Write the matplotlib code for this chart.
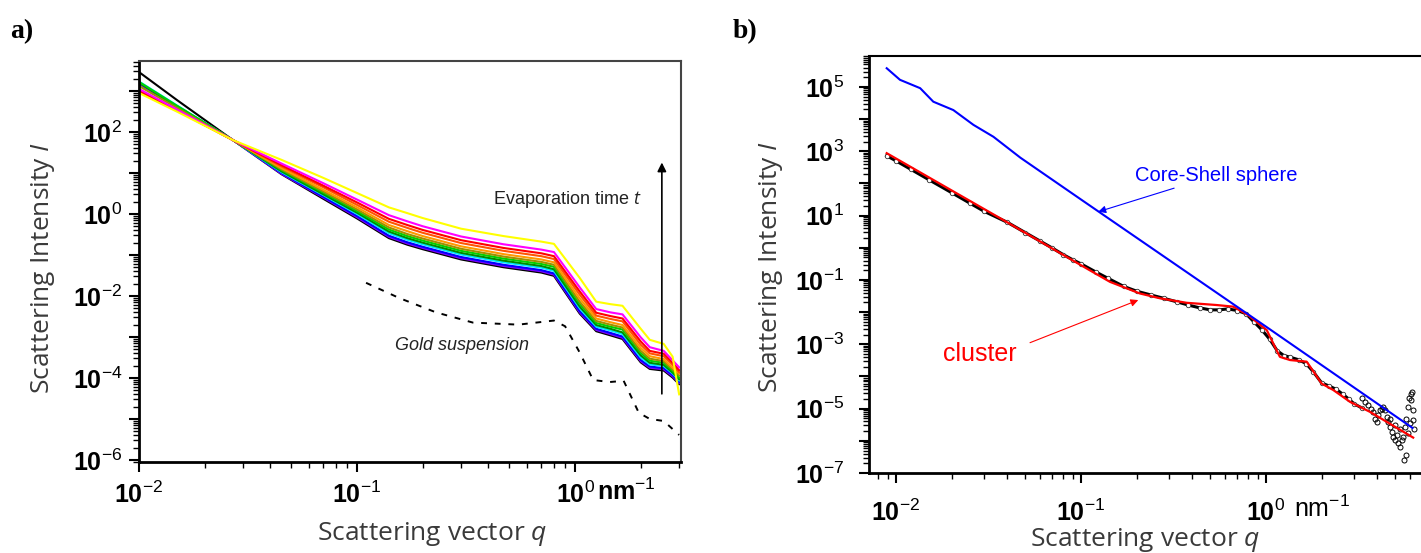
import numpy as np
import matplotlib
matplotlib.use('Agg')
import matplotlib.pyplot as plt
from matplotlib.ticker import LogLocator, NullFormatter, FixedLocator, FixedFormatter

plt.rcParams['mathtext.fontset'] = 'custom'
plt.rcParams['mathtext.rm'] = 'Liberation Sans'
plt.rcParams['mathtext.bf'] = 'Liberation Sans:bold'
plt.rcParams['mathtext.it'] = 'Open Sans:italic'
plt.rcParams['mathtext.sf'] = 'Liberation Sans'

# ---------------- panel a : evaporation series (log10 of intensity) ----------------
q_a = [0.01, 0.015, 0.027, 0.045, 0.07, 0.1, 0.14, 0.17, 0.2, 0.3, 0.47, 0.7, 0.8,
       1.05, 1.25, 1.45, 1.65, 2.0, 2.2, 2.55, 2.8, 3.0]

logI_black = [3.46, 2.77, 1.80, 0.97, 0.37, -0.11, -0.59, -0.75, -0.86, -1.11, -1.30, -1.43, -1.51,
              -2.43, -2.86, -2.96, -3.05, -3.62, -3.78, -3.82, -3.99, -4.15]
logI_violet = [3.17, 2.60, 1.80, 0.98, 0.40, -0.08, -0.56, -0.72, -0.83, -1.08, -1.27, -1.40, -1.48,
               -2.40, -2.83, -2.93, -3.02, -3.59, -3.75, -3.79, -3.96, -4.12]
logI_blue = [3.20, 2.62, 1.80, 1.00, 0.42, -0.05, -0.53, -0.69, -0.80, -1.05, -1.24, -1.37, -1.45,
             -2.37, -2.80, -2.90, -2.99, -3.56, -3.72, -3.76, -3.93, -4.09]
logI_cyan = [3.23, 2.64, 1.80, 1.02, 0.46, 0.00, -0.47, -0.63, -0.74, -0.99, -1.18, -1.31, -1.39,
             -2.30, -2.75, -2.84, -2.93, -3.50, -3.67, -3.71, -3.89, -4.06]
logI_dkgreen = [3.20, 2.62, 1.80, 1.04, 0.48, 0.03, -0.43, -0.59, -0.70, -0.95, -1.14, -1.27, -1.35,
                -2.26, -2.71, -2.80, -2.89, -3.45, -3.63, -3.68, -3.87, -4.03]
logI_green = [3.22, 2.63, 1.80, 1.07, 0.52, 0.07, -0.38, -0.54, -0.65, -0.90, -1.09, -1.22, -1.29,
              -2.19, -2.66, -2.75, -2.82, -3.39, -3.58, -3.63, -3.83, -3.99]
logI_olive = [3.12, 2.58, 1.80, 1.09, 0.55, 0.11, -0.33, -0.49, -0.60, -0.85, -1.04, -1.17, -1.24,
              -2.14, -2.61, -2.70, -2.77, -3.34, -3.53, -3.59, -3.79, -3.94]
logI_orange = [3.00, 2.52, 1.80, 1.12, 0.59, 0.16, -0.27, -0.42, -0.54, -0.79, -0.98, -1.11, -1.18,
               -2.06, -2.55, -2.64, -2.71, -3.27, -3.47, -3.54, -3.75, -3.89]
logI_orangered = [3.00, 2.52, 1.80, 1.16, 0.65, 0.22, -0.19, -0.34, -0.46, -0.71, -0.90, -1.03, -1.10,
                  -1.97, -2.48, -2.56, -2.62, -3.19, -3.40, -3.47, -3.68, -3.86]
logI_red = [3.00, 2.52, 1.80, 1.19, 0.69, 0.28, -0.12, -0.27, -0.39, -0.64, -0.83, -0.96, -1.03,
            -1.89, -2.41, -2.49, -2.55, -3.11, -3.34, -3.41, -3.63, -3.81]
logI_magenta = [3.05, 2.54, 1.80, 1.23, 0.75, 0.35, -0.03, -0.18, -0.30, -0.55, -0.74, -0.87, -0.93,
                -1.79, -2.32, -2.40, -2.45, -3.01, -3.25, -3.34, -3.57, -3.74]
logI_yellow = [2.95, 2.49, 1.80, 1.32, 0.88, 0.51, 0.16, 0.02, -0.10, -0.36, -0.54, -0.675, -0.73,
               -1.56, -2.14, -2.20, -2.24, -2.80, -3.07, -3.17, -3.48, -4.40]

# gold suspension (dashed)
q_gold = [0.11, 0.156, 0.23, 0.34, 0.55, 0.80, 0.90, 1.05, 1.21, 1.44, 1.67, 1.96, 2.2, 2.55, 3.0]
logI_gold = [-1.68, -2.05, -2.40, -2.65, -2.70, -2.60, -2.74, -3.38, -4.05, -4.10, -4.07,
             -4.85, -5.00, -5.05, -5.39]

ytick_exp_a = [-6, -5, -4, -3, -2, -1, 0, 1, 2, 3]
ytick_lab_a = [r'$\mathbf{10}^{\mathrm{-6}}$', '', r'$\mathbf{10}^{\mathrm{-4}}$', '',
               r'$\mathbf{10}^{\mathrm{-2}}$', '', r'$\mathbf{10}^{\mathrm{0}}$', '',
               r'$\mathbf{10}^{\mathrm{2}}$', '']
xtick_exp_a = [-2, -1, 0]
xtick_lab_a = [r'$\mathbf{10}^{\mathrm{-2}}$', r'$\mathbf{10}^{\mathrm{-1}}$', r'$\mathbf{10}^{\mathrm{0}}$']

# ---------------- panel b : fit of one pattern ----------------
q_cs = [0.0089, 0.0105, 0.0135, 0.0159, 0.0204, 0.0262, 0.0336, 0.047, 0.1, 1.0, 6.2]
logI_cs = [5.58, 5.22, 4.96, 4.54, 4.28, 3.82, 3.45, 2.80, 1.50, -2.45, -5.60]

q_cluster = [0.0089, 0.02, 0.0365, 0.107, 0.1435, 0.208, 0.267, 0.372, 0.542, 0.665, 0.80,
             1.01, 1.14, 1.19, 1.35, 1.66, 2.0, 2.31, 2.85, 3.65, 6.25]
logI_cluster = [2.94, 1.78, 0.92, -0.64, -1.06, -1.42, -1.57, -1.71, -1.78, -1.83, -2.09,
                -2.56, -3.18, -3.39, -3.49, -3.54, -4.22, -4.42, -4.79, -5.10, -5.90]

q_data = [0.0089, 0.010, 0.012, 0.015, 0.02, 0.025, 0.03, 0.04, 0.05, 0.06, 0.07, 0.08, 0.09,
          0.1, 0.12, 0.14, 0.17, 0.2, 0.24, 0.28, 0.33, 0.38, 0.44, 0.5, 0.56, 0.62, 0.7, 0.78,
          0.86, 0.95, 1.05, 1.15, 1.25, 1.35, 1.5, 1.65, 1.8, 2.0, 2.2, 2.4, 2.6, 2.8, 3.0, 3.3]
logI_data = [2.86, 2.70, 2.44, 2.12, 1.71, 1.39, 1.13, 0.79, 0.47, 0.21, -0.01, -0.21, -0.37,
             -0.50, -0.75, -0.95, -1.20, -1.35, -1.47, -1.57, -1.68, -1.78, -1.87, -1.93, -1.93,
             -1.90, -1.95, -2.05, -2.30, -2.55, -2.85, -3.20, -3.35, -3.40, -3.48, -3.60, -3.85,
             -4.20, -4.30, -4.40, -4.55, -4.70, -4.85, -4.98]

q_noise = [3.29, 3.43, 3.57, 3.72, 3.80, 3.88, 3.96, 4.05, 4.13, 4.22, 4.31, 4.40, 4.49, 4.58,
           4.68, 4.78, 4.88, 4.98, 5.08, 5.19, 5.30, 5.41, 5.52, 5.64, 5.75, 5.87, 5.94, 6.05,
           6.12, 6.20, 6.25, 6.31, 5.70, 5.57, 6.15, 6.0, 5.87, 5.30, 4.98, 4.68]
logI_noise = [-4.68, -4.79, -4.89, -5.00, -5.10, -5.31, -5.41, -5.20, -5.05, -5.00, -4.94,
              -5.05, -5.25, -5.41, -5.56, -5.72, -5.88, -5.98, -5.82, -6.08, -6.19, -5.98,
              -5.88, -5.56, -5.31, -4.94, -4.68, -4.53, -4.73, -5.05, -5.36, -5.62, -6.45,
              -6.60, -4.48, -5.46, -5.77, -5.62, -5.51, -5.31]

ytick_exp_b = list(range(-7, 6))
ytick_lab_b = [r'$\mathbf{10}^{\mathrm{%d}}$' % e if e % 2 else '' for e in ytick_exp_b]
xtick_exp_b = [-2, -1, 0]
xtick_lab_b = [r'$\mathbf{10}^{\mathrm{-2}}$', r'$\mathbf{10}^{\mathrm{-1}}$', r'$\mathbf{10}^{\mathrm{0}}$']

W, H = 1421, 553
fig = plt.figure(figsize=(W / 100, H / 100), dpi=100)


def px(x0, y0, x1, y1):
    # axes rectangle from pixel corners (top-left origin)
    return [x0 / W, 1 - y1 / H, (x1 - x0) / W, (y1 - y0) / H]


def style_axes(ax, xexp, xlab, yexp, ylab, xpad, ypad):
    ax.set_xscale('log')
    ax.set_yscale('log')
    ax.xaxis.set_major_locator(FixedLocator([10.0 ** e for e in xexp]))
    ax.xaxis.set_major_formatter(FixedFormatter(xlab))
    ax.yaxis.set_major_locator(FixedLocator([10.0 ** e for e in yexp]))
    ax.yaxis.set_major_formatter(FixedFormatter(ylab))
    ax.xaxis.set_minor_locator(LogLocator(base=10, subs=np.arange(2, 10), numticks=100))
    ax.yaxis.set_minor_locator(LogLocator(base=10, subs=np.arange(2, 10), numticks=100))
    ax.xaxis.set_minor_formatter(NullFormatter())
    ax.yaxis.set_minor_formatter(NullFormatter())
    ax.tick_params(which='major', direction='out', length=7, width=1.5, labelsize=18)
    ax.tick_params(which='minor', direction='out', length=4, width=1.0)
    ax.tick_params(axis='x', which='major', pad=xpad)
    ax.tick_params(axis='y', which='major', pad=ypad)
    ax.tick_params(top=False, right=False, which='both')
    for s in ['left', 'bottom']:
        ax.spines[s].set_linewidth(2)


# ---- panel a ----
ax1 = fig.add_axes(px(139, 61, 681, 462))
curves_a = [(logI_black, 'black'), (logI_violet, '#8000ff'), (logI_blue, '#0000ff'),
            (logI_cyan, '#00e5ff'), (logI_dkgreen, '#008c00'), (logI_green, '#00d000'),
            (logI_olive, '#a09000'), (logI_orange, '#ff9900'), (logI_orangered, '#ff5500'),
            (logI_red, '#ff0000'), (logI_magenta, '#ff00ff'), (logI_yellow, '#ffff00')]
for vals, col in curves_a:
    ax1.plot(q_a, 10.0 ** np.array(vals), color=col, lw=1.5)
ax1.plot(q_gold, 10.0 ** np.array(logI_gold), color='black', lw=1.4, dashes=(3, 4))
ax1.set_xlim(0.01, 3.06)
ax1.set_ylim(10 ** -6.05, 10 ** 3.73)
style_axes(ax1, xtick_exp_a, xtick_lab_a, ytick_exp_a, ytick_lab_a, 7, 5)
for s in ['top', 'right']:
    ax1.spines[s].set_color('#444444')
    ax1.spines[s].set_linewidth(1.5)
ax1.annotate(r'$\mathbf{nm}^{\mathrm{-1}}$', xy=(1.0, 0), xycoords=('data', 'axes fraction'),
             xytext=(16, -12), textcoords='offset points', ha='left', va='top', fontsize=18)
ax1.annotate('', xy=(2.5, 21), xytext=(2.5, 3.5e-5),
             arrowprops=dict(arrowstyle='-|>', color='black', lw=1.2, mutation_scale=13))
ax1.text(0.42, 10 ** 0.34, 'Evaporation time $t$', fontsize=13, color='#222222',
         family='Liberation Sans', ha='left', va='center')
ax1.text(0.149, 10 ** -3.2, 'Gold suspension', fontsize=13, color='#222222',
         family='Liberation Sans', style='italic', ha='left', va='center')

# ---- panel b ----
ax2 = fig.add_axes(px(869, 56, 1421, 473))
ax2.plot(q_data, 10.0 ** np.array(logI_data), color='black', lw=2.2)
ax2.plot(q_data, 10.0 ** np.array(logI_data), 'o', mfc='white', mec='#333333', ms=3.2, mew=0.6)
ax2.plot(q_noise, 10.0 ** np.array(logI_noise), 'o', mfc='none', mec='black', ms=3.6, mew=0.7)
ax2.plot(q_cluster, 10.0 ** np.array(logI_cluster), color='#ff0000', lw=1.6)
ax2.plot(q_cs, 10.0 ** np.array(logI_cs), color='#0000ff', lw=1.5)
ax2.set_xlim(0.00714, 6.89)
ax2.set_ylim(1e-7, 10 ** 5.96)
style_axes(ax2, xtick_exp_b, xtick_lab_b, ytick_exp_b, ytick_lab_b, 12, 11)
ax2.spines['right'].set_visible(False)
ax2.spines['top'].set_linewidth(1.5)
ax2.annotate(r'$\mathrm{nm}^{\mathrm{-1}}$', xy=(1.0, 0), xycoords=('data', 'axes fraction'),
             xytext=(20, -16), textcoords='offset points', ha='left', va='top', fontsize=18)
ax2.annotate('Core-Shell sphere', xy=(0.124, 10 ** 1.12), xytext=(0.196, 10 ** 2.26),
             color='#0000ff', fontsize=14.5, family='Liberation Sans', ha='left', va='center',
             arrowprops=dict(arrowstyle='-|>', color='#0000ff', lw=0.8, mutation_scale=11,
                             shrinkA=2, shrinkB=0))
ax2.annotate('', xy=(0.204, 10 ** -1.625), xytext=(0.053, 10 ** -2.95),
             arrowprops=dict(arrowstyle='-|>', color='#ff0000', lw=0.8, mutation_scale=11,
                             shrinkA=0, shrinkB=0))
ax2.text(0.0285, 10 ** -3.30, 'cluster', color='#ff0000', fontsize=18,
         family='Liberation Sans', ha='center', va='center')

# ---- labels ----
lab_kw = dict(family='Open Sans', fontsize=19, color='#3a3a3a')
fig.text(43 / W, 1 - 268 / H, 'Scattering Intensity $I$', rotation=90, ha='center', va='center', **lab_kw)
fig.text(771 / W, 1 - 267 / H, 'Scattering Intensity $I$', rotation=90, ha='center', va='center', **lab_kw)
fig.text(432 / W, 1 - 540 / H, 'Scattering vector $q$', ha='center', va='baseline', **lab_kw)
fig.text(1145 / W, 1 - 546 / H, 'Scattering vector $q$', ha='center', va='baseline', **lab_kw)
fig.text(10 / W, 1 - 38 / H, 'a)', family='Liberation Serif', weight='bold', fontsize=20, va='baseline')
fig.text(733 / W, 1 - 38 / H, 'b)', family='Liberation Serif', weight='bold', fontsize=20, va='baseline')

fig.savefig('out.png', dpi=100)
